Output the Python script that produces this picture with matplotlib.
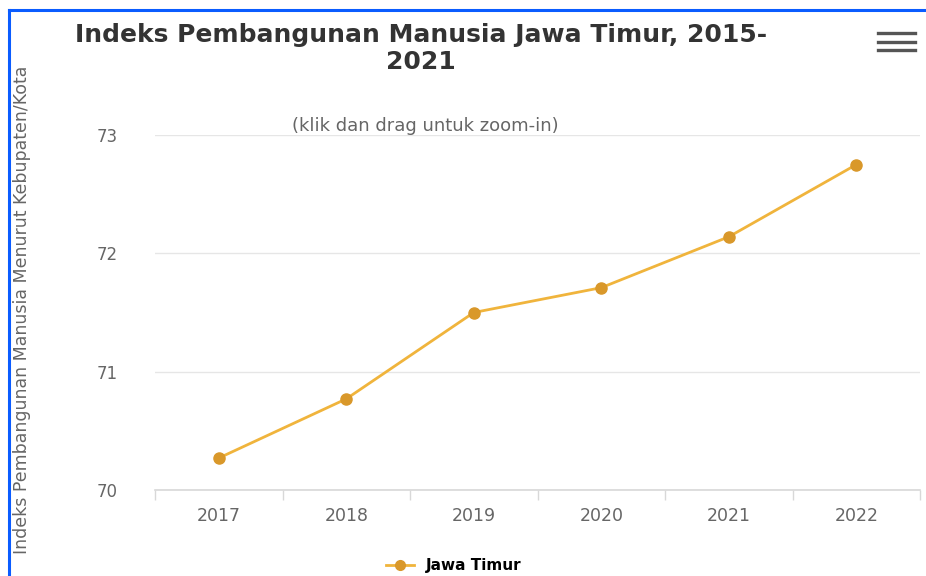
import matplotlib
matplotlib.use("Agg")
import matplotlib.pyplot as plt
from matplotlib.lines import Line2D

# data
years = ["2017", "2018", "2019", "2020", "2021", "2022"]
ipm = [70.27, 70.77, 71.50, 71.71, 72.14, 72.75]
series_name = "Jawa Timur"
y_ticks = [70, 71, 72, 73]

line_col = "#f0b43c"
marker_col = "#d9982a"
text_col = "#666666"

plt.rcParams["font.family"] = "DejaVu Sans"

fig = plt.figure(figsize=(9.26, 5.76), dpi=100)
ax = fig.add_axes([0.1674, 0.1493, 0.8262, 0.6163])

x = list(range(len(years)))
ax.plot(x, ipm, color=line_col, lw=2, marker="o", ms=8,
        markerfacecolor=marker_col, markeredgecolor=marker_col, zorder=3)

ax.set_xlim(-0.5, len(years) - 0.5)
ax.set_ylim(70, 73)
ax.set_yticks(y_ticks)
ax.set_xticks(x)
ax.set_xticklabels(years)
ax.set_xticks([i - 0.5 for i in range(len(years) + 1)], minor=True)
ax.tick_params(axis="x", which="major", length=0, pad=12, labelsize=12.5, colors=text_col)
ax.tick_params(axis="x", which="minor", length=7, color="#d8d8d8", width=1)
ax.tick_params(axis="y", length=0, pad=27, labelsize=12, colors=text_col)

ax.grid(axis="y", color="#e6e6e6", lw=1)
ax.set_axisbelow(True)
for s in ["top", "right", "left"]:
    ax.spines[s].set_visible(False)
ax.spines["bottom"].set_color("#d8d8d8")
ax.spines["bottom"].set_linewidth(1.2)

# title and subtitle
fig.text(0.455, 0.939, "Indeks Pembangunan Manusia Jawa Timur, 2015-",
         ha="center", va="center", fontsize=18, fontweight="bold", color="#333333")
fig.text(0.455, 0.892, "2021",
         ha="center", va="center", fontsize=18, fontweight="bold", color="#333333")
fig.text(0.459, 0.782, "(klik dan drag untuk zoom-in)", ha="center", va="center",
         fontsize=13, color=text_col)

# y label
fig.text(0.024, 0.462, "Indeks Pembangunan Manusia Menurut Kebupaten/Kota",
         rotation=90, ha="center", va="center", fontsize=12.5, color=text_col)

# hamburger menu icon
for yy in [0.913, 0.927, 0.942]:
    fig.add_artist(Line2D([0.948, 0.988], [yy, yy], color="#555555", lw=2.4))

# legend
handle = Line2D([], [], color=line_col, lw=2, marker="o", ms=7,
                markerfacecolor=marker_col, markeredgecolor=marker_col)
fig.legend([handle], [series_name], loc="center", bbox_to_anchor=(0.49, 0.018),
           frameon=False, handlelength=1.8,
           prop={"weight": "bold", "size": 11})

# blue frame at top and left
fig.add_artist(Line2D([0.0097, 1.0], [0.982, 0.982], color="#0a5cff", lw=2.2))
fig.add_artist(Line2D([0.0097, 0.0097], [0.0, 0.982], color="#0a5cff", lw=2.2))

fig.savefig("out.png", dpi=100)
